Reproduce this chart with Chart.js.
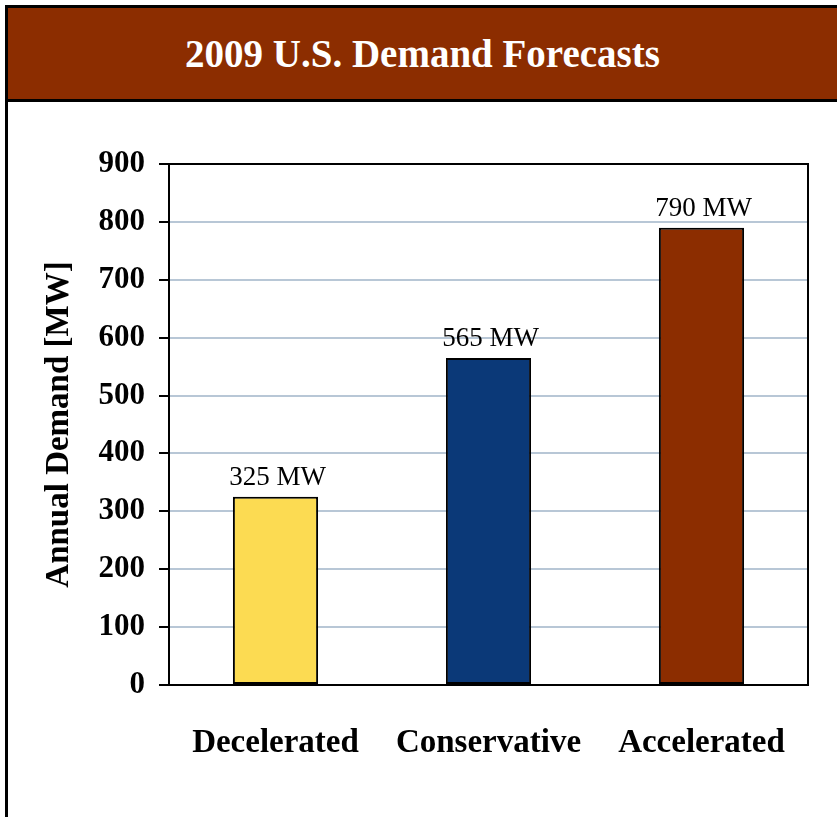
<!DOCTYPE html>
<html>
<head>
<meta charset="utf-8">
<script src="https://cdn.jsdelivr.net/npm/chart.js@4.4.1/dist/chart.umd.min.js"></script>
<style>
  html, body { margin: 0; padding: 0; background: #ffffff; width: 837px; height: 817px; overflow: hidden; }
  #frame {
    position: absolute; left: 5px; top: 5px; width: 840px; height: 820px;
    border-left: 3px solid #000; border-top: 3px solid #000; box-sizing: border-box;
  }
  #header {
    position: absolute; left: 8px; top: 8px; width: 829px; height: 91px;
    background: #8c2d00; border-bottom: 3px solid #000;
    display: flex; align-items: center; justify-content: center;
    color: #ffffff; font-family: "Liberation Serif", serif; font-weight: bold; font-size: 39px;
  }
  #wrap { position: absolute; left: 0; top: 102px; width: 837px; height: 715px; }
</style>
</head>
<body>
<div id="frame"></div>
<div id="header">2009 U.S. Demand Forecasts</div>
<div id="wrap"><canvas id="chart" width="837" height="715"></canvas></div>
<script>
// Forecast scenarios and annual demand
const categories = ["Decelerated", "Conservative", "Accelerated"];
const demandMW = [325, 565, 790];
const barColors = ["#fcdb52", "#0b3978", "#8c2d00"];
const yTicks = [0, 100, 200, 300, 400, 500, 600, 700, 800, 900];

const SERIF = '"Liberation Serif", "Times New Roman", serif';

// Value labels above each bar
const valueLabels = {
  id: 'valueLabels',
  afterDatasetsDraw(chart) {
    const ctx = chart.ctx;
    const meta = chart.getDatasetMeta(0);
    ctx.save();
    ctx.font = '27px ' + SERIF;
    ctx.fillStyle = '#000';
    ctx.textAlign = 'center';
    ctx.textBaseline = 'alphabetic';
    meta.data.forEach((bar, i) => {
      ctx.fillText(demandMW[i] + ' MW', bar.x + 2, bar.y - 12);
    });
    ctx.restore();
  }
};

// Top and right edges of the plot frame
const plotFrame = {
  id: 'plotFrame',
  afterDraw(chart) {
    const { ctx, chartArea: a } = chart;
    ctx.save();
    ctx.strokeStyle = '#000';
    ctx.lineWidth = 2;
    ctx.beginPath();
    ctx.moveTo(a.left, a.top);
    ctx.lineTo(a.right, a.top);
    ctx.lineTo(a.right, a.bottom);
    ctx.stroke();
    ctx.restore();
  }
};

new Chart(document.getElementById('chart'), {
  type: 'bar',
  data: {
    labels: categories,
    datasets: [{
      data: demandMW,
      backgroundColor: barColors,
      borderColor: '#000',
      borderWidth: 2,
      borderSkipped: false,
      categoryPercentage: 1.0,
      barPercentage: 0.4
    }]
  },
  options: {
    responsive: false,
    animation: false,
    layout: { padding: { left: 40, top: 62, right: 29, bottom: 32 } },
    plugins: {
      legend: { display: false },
      tooltip: { enabled: false }
    },
    scales: {
      x: {
        afterFit(scale) { scale.height = 100; },
        grid: { display: false },
        border: { display: true, color: '#000', width: 2 },
        ticks: {
          color: '#000',
          padding: 31,
          font: { family: SERIF, size: 33, weight: 'bold' }
        }
      },
      y: {
        min: 0,
        max: 900,
        afterFit(scale) { scale.width = 129; },
        afterBuildTicks(scale) { scale.ticks = yTicks.map(v => ({ value: v })); },
        title: {
          display: true,
          text: 'Annual Demand [MW]',
          color: '#000',
          padding: { top: 0, bottom: 0 },
          font: { family: SERIF, size: 33, weight: 'bold' }
        },
        grid: {
          color: ctx => (ctx.tick && (ctx.tick.value === 0 || ctx.tick.value === 900)) ? 'rgba(0,0,0,0)' : '#b8c7d6',
          lineWidth: 2,
          tickColor: '#000',
          tickLength: 10,
          tickWidth: 2
        },
        border: { display: true, color: '#000', width: 2 },
        ticks: {
          color: '#000',
          padding: 14,
          font: { family: SERIF, size: 31, weight: 'bold' }
        }
      }
    }
  },
  plugins: [valueLabels, plotFrame]
});
</script>
</body>
</html>
